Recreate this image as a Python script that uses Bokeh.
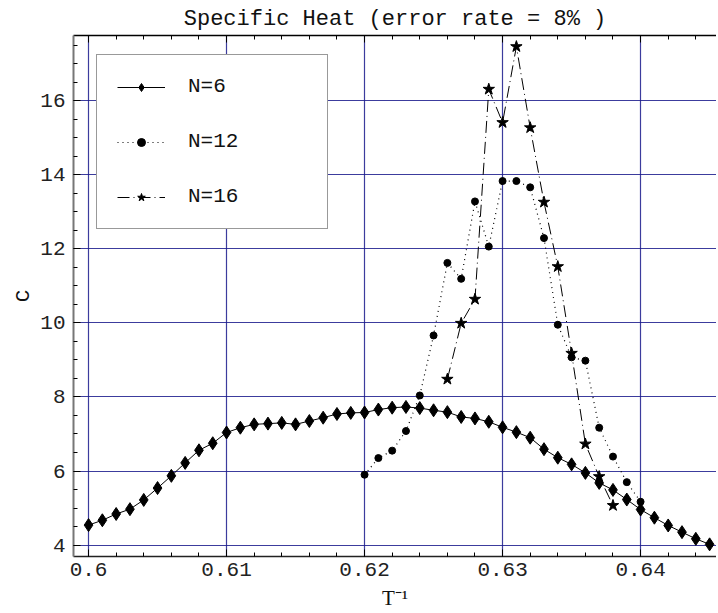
import numpy as np
from bokeh.plotting import figure
from bokeh.models import (FixedTicker, LinearAxis, Range1d, Legend, LegendItem,
                          CustomLabelingPolicy)
from bokeh.embed import file_html
from bokeh.resources import INLINE

# ---- data ----
x6 = [0.600, 0.601, 0.602, 0.603, 0.604, 0.605, 0.606, 0.607, 0.608, 0.609,
      0.610, 0.611, 0.612, 0.613, 0.614, 0.615, 0.616, 0.617, 0.618, 0.619,
      0.620, 0.621, 0.622, 0.623, 0.624, 0.625, 0.626, 0.627, 0.628, 0.629,
      0.630, 0.631, 0.632, 0.633, 0.634, 0.635, 0.636, 0.637, 0.638, 0.639,
      0.640, 0.641, 0.642, 0.643, 0.644, 0.645]
c6 = [4.54, 4.67, 4.84, 4.97, 5.22, 5.54, 5.87, 6.22, 6.56, 6.75,
      7.04, 7.17, 7.26, 7.28, 7.30, 7.26, 7.35, 7.44, 7.54, 7.57,
      7.58, 7.66, 7.71, 7.73, 7.70, 7.64, 7.59, 7.46, 7.42, 7.33,
      7.18, 7.05, 6.90, 6.59, 6.36, 6.18, 5.95, 5.68, 5.49, 5.23,
      4.96, 4.74, 4.53, 4.35, 4.17, 4.02]

x12 = [0.620, 0.621, 0.622, 0.623, 0.624, 0.625, 0.626, 0.627, 0.628, 0.629,
       0.630, 0.631, 0.632, 0.633, 0.634, 0.635, 0.636, 0.637, 0.638, 0.639,
       0.640]
c12 = [5.90, 6.35, 6.55, 7.08, 8.04, 9.66, 11.62, 11.19, 13.28, 12.06,
       13.83, 13.83, 13.66, 12.29, 9.95, 9.07, 8.98, 7.17, 6.39, 5.70,
       5.17]

x16 = [0.626, 0.627, 0.628, 0.629, 0.630, 0.631, 0.632, 0.633, 0.634, 0.635,
       0.636, 0.637, 0.638]
c16 = [8.48, 9.99, 10.64, 16.31, 15.41, 17.46, 15.27, 13.26, 11.52, 9.18,
       6.73, 5.85, 5.07]

x_ticks = [0.60, 0.61, 0.62, 0.63, 0.64]
x_tick_labels = ["0.6", "0.61", "0.62", "0.63", "0.64"]
y_ticks = [4, 6, 8, 10, 12, 14, 16]
series_labels = ["N=6", "N=12", "N=16"]
title_text = "Specific Heat (error rate = 8% )"

MONO = "Liberation Mono"
GRID = "#1a1a8c"

p = figure(width=716, height=613,
           x_range=Range1d(0.59891, 0.6455), y_range=Range1d(3.692, 17.76),
           output_backend="svg", toolbar_location=None,
           min_border_left=73, min_border_right=0,
           min_border_top=35, min_border_bottom=57)

p.title.text = title_text
p.title.text_font = MONO
p.title.text_font_size = "22px"
p.title.text_font_style = "normal"
p.title.text_color = "#111111"
p.title.align = "center"
p.title.standoff = 0
p.title.offset = 0
p.outline_line_color = None
p.background_fill_color = "white"
p.border_fill_color = "white"

x_minor = [float(v) for v in np.round(np.arange(0.598, 0.6470, 0.002), 4)]
y_minor = [float(v) for v in np.arange(3.5, 18.01, 0.5)]

xt = FixedTicker(ticks=x_ticks, minor_ticks=x_minor)
yt = FixedTicker(ticks=y_ticks, minor_ticks=y_minor)

xa = p.xaxis[0]
xa.ticker = xt
xa.major_label_overrides = {t: l for t, l in zip(x_ticks, x_tick_labels)}
ya = p.yaxis[0]
ya.ticker = yt

for ax in (xa, ya):
    ax.major_tick_in = 7
    ax.major_tick_out = 0
    ax.minor_tick_in = 4
    ax.minor_tick_out = 0
    ax.major_tick_line_color = "black"
    ax.minor_tick_line_color = "black"
    ax.major_label_text_font = MONO
    ax.major_label_text_font_size = "21px"
    ax.major_label_text_color = "#222222"
    ax.axis_label_text_font_style = "normal"
    ax.axis_label_text_font_size = "21px"
    ax.axis_label_text_color = "#111111"

xa.axis_line_color = "#222222"
xa.axis_line_width = 1.5
xa.major_label_standoff = 6
xa.axis_label = "T\u207b\u00b9"
xa.axis_label_text_font = "Liberation Serif"
xa.axis_label_standoff = 7

ya.axis_line_color = "#777777"
ya.axis_line_width = 2
ya.major_label_standoff = 8
ya.axis_label = "C"
ya.axis_label_text_font = MONO
ya.axis_label_standoff = 2

no_labels = CustomLabelingPolicy(code="""
    const all = [...indices]
    for (const i of all) { indices.unset(i) }
    return indices
""")
top = LinearAxis(ticker=FixedTicker(ticks=x_ticks, minor_ticks=x_minor),
                 major_label_policy=no_labels, major_label_standoff=0,
                 major_label_text_font_size="1px", axis_label_standoff=0,
                 major_tick_in=7, major_tick_out=0, minor_tick_in=4, minor_tick_out=0,
                 axis_line_color="black", axis_line_width=1.5)
p.add_layout(top, "above")

p.xgrid.ticker = xt
p.ygrid.ticker = yt
p.grid.grid_line_color = GRID
p.grid.grid_line_width = 1.2
p.grid.grid_line_alpha = 0.85

# ---- series ----
l6 = p.line(x6, c6, line_color="black", line_width=1)
s6 = p.scatter(x6, c6, marker="diamond", size=13, color="black")
l12 = p.line(x12, c12, line_color="black", line_width=1.2, line_dash="1 4")
s12 = p.scatter(x12, c12, marker="circle", size=7, color="black")
l16 = p.line(x16, c16, line_color="black", line_width=1, line_dash="12 4 1 4")
s16 = p.scatter(x16, c16, marker="star", size=12, color="black")

legend = Legend(items=[LegendItem(label=series_labels[0], renderers=[l6, s6]),
                       LegendItem(label=series_labels[1], renderers=[l12, s12]),
                       LegendItem(label=series_labels[2], renderers=[l16, s16])],
                location=(23, 327),
                glyph_width=48, glyph_height=20, label_height=20, label_width=119,
                spacing=32, padding=20, label_standoff=23, margin=0,
                label_text_font=MONO, label_text_font_size="21px",
                label_text_color="#111111",
                border_line_color="#333333", border_line_width=1.5,
                background_fill_color="white", background_fill_alpha=1.0)
p.add_layout(legend, "center")

open("out.html", "w").write(file_html(p, INLINE))
